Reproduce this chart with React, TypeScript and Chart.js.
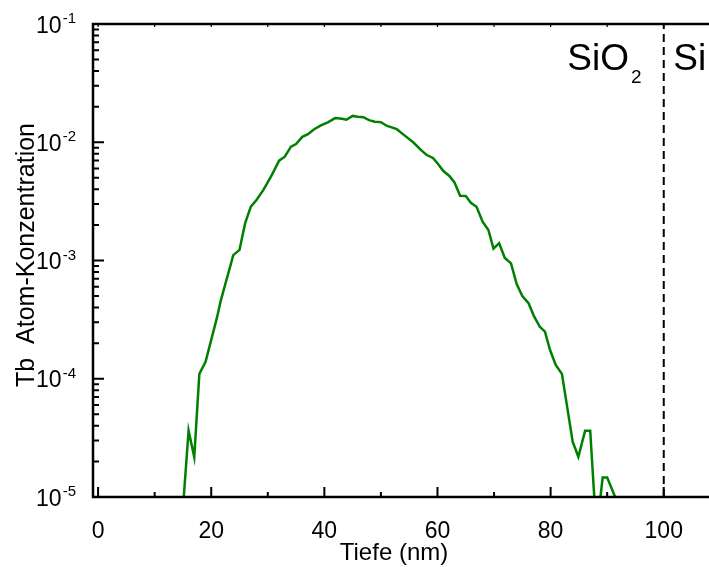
import React, { useEffect, useRef } from "react";
import { Chart, registerables } from "chart.js";

Chart.register(...registerables);

const depthNm = [
  15.0, 16.0, 17.0, 17.9, 19.0, 20.0, 21.0, 21.7, 23.9, 25.0, 26.0, 27.0, 28.0, 29.2, 30.7, 32.0, 33.0, 34.1,
  35.0, 36.1, 37.1, 38.2, 39.4, 40.7, 41.9, 43.1, 43.9, 45.0, 45.9, 46.9, 47.9, 48.9, 50.0, 51.0, 52.8, 54.0,
  55.7, 57.2, 58.1, 59.2, 60.1, 61.0, 62.1, 63.0, 64.0, 65.0, 65.9, 66.9, 68.0, 69.0, 69.9, 70.9, 71.9, 73.0,
  74.0, 75.0, 76.1, 77.1, 78.1, 79.0, 79.9, 80.9, 82.0, 83.9, 84.9, 86.1, 87.0, 88.1, 89.2, 90.0, 91.8,
];
const concentration = [
  8e-6, 3.64e-5, 2.18e-5, 1.1e-4, 1.39e-4, 2.13e-4, 3.27e-4, 4.6e-4, 1.11e-3, 1.23e-3, 2.07e-3, 2.85e-3, 3.25e-3,
  3.94e-3, 5.28e-3, 6.98e-3, 7.55e-3, 9.17e-3, 9.66e-3, 1.11e-2, 1.17e-2, 1.29e-2, 1.39e-2, 1.48e-2, 1.6e-2,
  1.58e-2, 1.55e-2, 1.67e-2, 1.64e-2, 1.63e-2, 1.54e-2, 1.49e-2, 1.48e-2, 1.38e-2, 1.29e-2, 1.16e-2, 1.0e-2,
  8.49e-3, 7.8e-3, 7.36e-3, 6.55e-3, 5.74e-3, 5.19e-3, 4.58e-3, 3.53e-3, 3.51e-3, 3.08e-3, 2.85e-3, 2.12e-3,
  1.81e-3, 1.26e-3, 1.4e-3, 1.05e-3, 9.46e-4, 6.32e-4, 5.01e-4, 4.35e-4, 3.35e-4, 2.75e-4, 2.5e-4, 1.75e-4,
  1.31e-4, 1.1e-4, 2.94e-5, 2.19e-5, 3.64e-5, 3.64e-5, 5e-6, 1.46e-5, 1.46e-5, 9e-6,
];

const interfaceDepth = 100;
const xTickLabels = [0, 20, 40, 60, 80, 100];
const xMinorTicks = [10, 30, 50, 70, 90];
const yExponents = [-5, -4, -3, -2, -1];
const xTitle = "Tiefe (nm)";
const yTitle = "Tb  Atom-Konzentration";
const oxideLabel = "SiO";
const oxideSub = "2";
const substrateLabel = "Si";

const FONT = '"Liberation Sans", Arial, Helvetica, sans-serif';

export default function App() {
  const ref = useRef<HTMLCanvasElement>(null);

  useEffect(() => {
    document.body.style.margin = "0";
    const canvas = ref.current;
    if (!canvas) return;

    const framePlugin = {
      id: "frame",
      afterDatasetsDraw(chart: any) {
        const { ctx, chartArea: a, scales } = chart;
        const xs = scales.x;
        const ys = scales.y;
        ctx.save();
        ctx.strokeStyle = "#000";
        ctx.fillStyle = "#000";
        ctx.lineCap = "butt";

        // y ticks (inside)
        ctx.lineWidth = 2;
        ctx.beginPath();
        for (const e of yExponents) {
          const py = ys.getPixelForValue(Math.pow(10, e));
          ctx.moveTo(a.left, py);
          ctx.lineTo(a.left + 11, py);
          if (e < -1) {
            for (let m = 2; m <= 9; m++) {
              const p = ys.getPixelForValue(m * Math.pow(10, e));
              ctx.moveTo(a.left, p);
              ctx.lineTo(a.left + 6, p);
            }
          }
        }
        // x ticks (inside, bottom)
        for (const v of xTickLabels) {
          const px = xs.getPixelForValue(v);
          ctx.moveTo(px, a.bottom);
          ctx.lineTo(px, a.bottom - 10);
        }
        for (const v of xMinorTicks) {
          const px = xs.getPixelForValue(v);
          ctx.moveTo(px, a.bottom);
          ctx.lineTo(px, a.bottom - 5);
        }
        ctx.stroke();

        // top small ticks
        ctx.lineWidth = 1.2;
        ctx.beginPath();
        for (const v of [...xTickLabels, ...xMinorTicks]) {
          const px = xs.getPixelForValue(v);
          ctx.moveTo(px, a.top);
          ctx.lineTo(px, a.top + 3);
        }
        ctx.stroke();

        // frame
        ctx.lineWidth = 2.5;
        ctx.beginPath();
        ctx.moveTo(a.left, a.top);
        ctx.lineTo(a.right, a.top);
        ctx.moveTo(a.left, a.top - 1.25);
        ctx.lineTo(a.left, a.bottom + 1.25);
        ctx.moveTo(a.left, a.bottom);
        ctx.lineTo(a.right, a.bottom);
        ctx.stroke();

        // x tick labels
        ctx.font = `23px ${FONT}`;
        ctx.textAlign = "center";
        ctx.textBaseline = "alphabetic";
        for (const v of xTickLabels) {
          ctx.fillText(String(v), xs.getPixelForValue(v), 538);
        }

        // y tick labels 10^e
        for (const e of yExponents) {
          const py = ys.getPixelForValue(Math.pow(10, e));
          ctx.textAlign = "right";
          ctx.font = `15px ${FONT}`;
          const expText = String(e);
          ctx.fillText(expText, 76, py - 1);
          const w = ctx.measureText(expText).width;
          ctx.font = `23px ${FONT}`;
          ctx.fillText("10", 76 - w - 1, py + 8.5);
        }

        // axis titles
        ctx.font = `24px ${FONT}`;
        ctx.textAlign = "center";
        ctx.fillText(xTitle, 394, 560);
        ctx.save();
        ctx.font = `25px ${FONT}`;
        ctx.translate(34, 255);
        ctx.rotate(-Math.PI / 2);
        ctx.fillText(yTitle, 0, 0);
        ctx.restore();

        // layer labels
        const ix = xs.getPixelForValue(interfaceDepth);
        ctx.textAlign = "left";
        ctx.font = `37px ${FONT}`;
        const ow = ctx.measureText(oxideLabel).width;
        const ox = ix - 96.5;
        ctx.fillText(oxideLabel, ox, 70);
        ctx.fillText(substrateLabel, ix + 9.5, 70);
        ctx.font = `19px ${FONT}`;
        ctx.fillText(oxideSub, ox + ow + 2, 83);

        ctx.restore();
      },
    };

    const chart = new Chart(canvas, {
      type: "line",
      data: {
        datasets: [
          {
            data: depthNm.map((x, i) => ({ x, y: concentration[i] })),
            borderColor: "rgb(0,128,0)",
            borderWidth: 2.5,
            pointRadius: 0,
            tension: 0,
            fill: false,
          },
          {
            data: [
              { x: interfaceDepth, y: 1e-5 },
              { x: interfaceDepth, y: 1e-1 },
            ],
            borderColor: "#000",
            borderWidth: 2,
            borderDash: [8, 5],
            pointRadius: 0,
            fill: false,
          },
        ],
      },
      options: {
        responsive: false,
        maintainAspectRatio: false,
        animation: false,
        layout: { padding: { top: 24, left: 0, right: 0, bottom: 0 } },
        plugins: { legend: { display: false }, tooltip: { enabled: false } },
        scales: {
          x: {
            type: "linear",
            min: -0.9,
            max: 108,
            ticks: { display: false },
            grid: { display: false, drawTicks: false },
            border: { display: false },
            afterFit: (s: any) => {
              s.height = 70;
            },
          },
          y: {
            type: "logarithmic",
            min: 1e-5,
            max: 1e-1,
            ticks: { display: false },
            grid: { display: false, drawTicks: false },
            border: { display: false },
            afterFit: (s: any) => {
              s.width = 93;
            },
          },
        },
      },
      plugins: [framePlugin],
    } as any);

    return () => chart.destroy();
  }, []);

  return (
    <div style={{ width: 709, height: 567, position: "absolute", left: 0, top: 0, background: "#fff" }}>
      <canvas ref={ref} width={709} height={567} />
    </div>
  );
}
